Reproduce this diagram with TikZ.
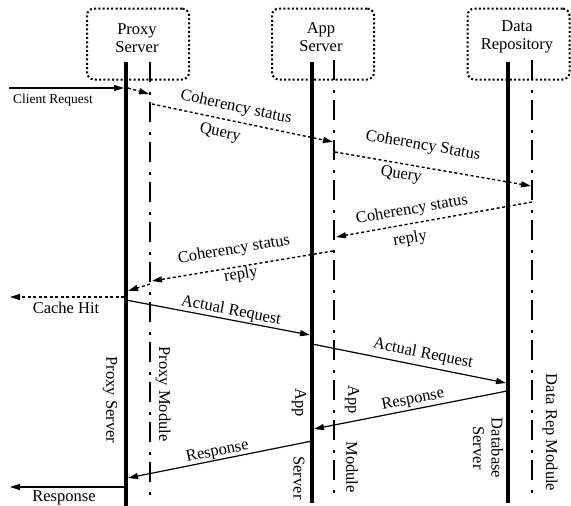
\documentclass[tikz,border=0pt]{standalone}
\usepackage{fontspec}
\setmainfont{Liberation Serif}
\usetikzlibrary{arrows.meta}
\begin{document}
\begin{tikzpicture}[x=1pt,y=-1pt,
  lbl/.style={inner sep=0pt,font=\fontsize{16.5}{18.5}\selectfont},
  smalllbl/.style={inner sep=0pt,font=\fontsize{13.5}{16}\selectfont},
  procbox/.style={draw,line width=2pt,dash pattern=on 2pt off 2.3pt,rounded corners=7pt,minimum width=102pt,minimum height=71pt,inner sep=0pt},
  server/.style={line width=4.5pt},
  module/.style={line width=2.6pt,dash pattern=on 20pt off 10pt on 2.5pt off 7.5pt},
  msg/.style={line width=1.2pt,-{Triangle[length=10pt,width=6pt]}},
  qmsg/.style={msg,line width=1.4pt,dash pattern=on 3pt off 2.5pt}
]
\useasboundingbox (0,0) rectangle (571,506);

% boxes
\node[procbox] (pbox) at (138,44) {};
\node[procbox] (abox) at (323,44) {};
\node[procbox] (dbox) at (518.5,44) {};
\node[lbl,align=center] (pboxlbl) at (137,38) {Proxy\\Server};
\node[lbl,align=center] (aboxlbl) at (321,37) {App\\Server};
\node[lbl,align=center] (dboxlbl) at (517,37) {Data\\Repository};

% lifelines
\coordinate (pst) at (126,62);  \coordinate (psb) at (126,506);
\coordinate (pmt) at (150,62);  \coordinate (pmb) at (150,500);
\coordinate (ast) at (312,62);  \coordinate (asb) at (312,503);
\coordinate (amt) at (334,60);  \coordinate (amb) at (334,500);
\coordinate (dst) at (508,62);  \coordinate (dsb) at (508,503);
\coordinate (dmt) at (532,60);  \coordinate (dmb) at (532,500);
\draw[server] (pst) -- (psb);
\draw[module] (pmt) -- (pmb);
\draw[server] (ast) -- (asb);
\draw[module] (amt) -- (amb);
\draw[server] (dst) -- (dsb);
\draw[module] (dmt) -- (dmb);

% message end points
\coordinate (cin) at (9,88);    \coordinate (p1) at (124,88);
\coordinate (p2) at (128,88);   \coordinate (pm1) at (149,94);
\coordinate (pm2) at (152,104); \coordinate (am1) at (333,142);
\coordinate (am2) at (335,152); \coordinate (dm1) at (531,186);
\coordinate (dm2) at (532,202); \coordinate (am3) at (336,237);
\coordinate (am4) at (333,251); \coordinate (pm3) at (152,281);
\coordinate (pm4) at (150,284); \coordinate (p3) at (128,291);
\coordinate (p4) at (124,297);  \coordinate (cout) at (10,297);
\coordinate (p5) at (126,300);  \coordinate (a1) at (310,335);
\coordinate (a2) at (312,344);  \coordinate (d1) at (506,383);
\coordinate (d2) at (507,391);  \coordinate (a3) at (314,429);
\coordinate (a4) at (312,441);  \coordinate (p6) at (128,478);
\coordinate (p7) at (124,487);  \coordinate (rout) at (10,487);

\draw[msg] (cin) -- (p1);
\draw[qmsg] (p2) -- (pm1);
\draw[qmsg] (pm2) -- (am1);
\draw[qmsg] (am2) -- (dm1);
\draw[qmsg] (dm2) -- (am3);
\draw[qmsg] (am4) -- (pm3);
\draw[qmsg] (pm4) -- (p3);
\draw[qmsg] (p4) -- (cout);
\draw[msg] (p5) -- (a1);
\draw[msg] (a2) -- (d1);
\draw[msg] (d2) -- (a3);
\draw[msg] (a4) -- (p6);
\draw[msg] (p7) -- (rout);

% message labels
\node[smalllbl] (lcr) at (53,100) {Client Request};
\node[lbl,rotate=-11.9] (lq1a) at (236,107.5) {Coherency status};
\node[lbl,rotate=-11.9] (lq1b) at (220,133) {Query};
\node[lbl,rotate=-9.8] (lq2a) at (423,146) {Coherency Status};
\node[lbl,rotate=-9.8] (lq2b) at (401,175) {Query};
\node[lbl,rotate=10.1] (lr1a) at (412,210) {Coherency status};
\node[lbl,rotate=10.1] (lr1b) at (410,239) {reply};
\node[lbl,rotate=9.4] (lr2a) at (234,250) {Coherency status};
\node[lbl,rotate=9.4] (lr2b) at (241,275) {reply};
\node[lbl] (lch) at (66,308) {Cache Hit};
\node[lbl,rotate=-10.9] (lar1) at (231,311) {Actual Request};
\node[lbl,rotate=-11.3] (lar2) at (423,354) {Actual Request};
\node[lbl,rotate=11.1] (lrs1) at (413,400) {Response};
\node[lbl,rotate=11.4] (lrs2) at (217.5,452) {Response};
\node[lbl] (lrs3) at (64,497.5) {Response};

% lifeline labels
\node[lbl,rotate=-90] (lps) at (110,400) {Proxy Server};
\node[lbl,rotate=-90] (lpm) at (163,394) {Proxy Module};
\node[lbl,rotate=-90] (las1) at (299,403) {App};
\node[lbl,rotate=-90] (las2) at (299,478) {Server};
\node[lbl,rotate=-90] (lam1) at (352,400) {App};
\node[lbl,rotate=-90] (lam2) at (352,467) {Module};
\node[lbl,rotate=-90,align=center] (lds) at (488,448) {Database\\Server};
\node[lbl,rotate=-90] (ldm) at (550,432.5) {Data Rep Module};
\end{tikzpicture}
\end{document}
